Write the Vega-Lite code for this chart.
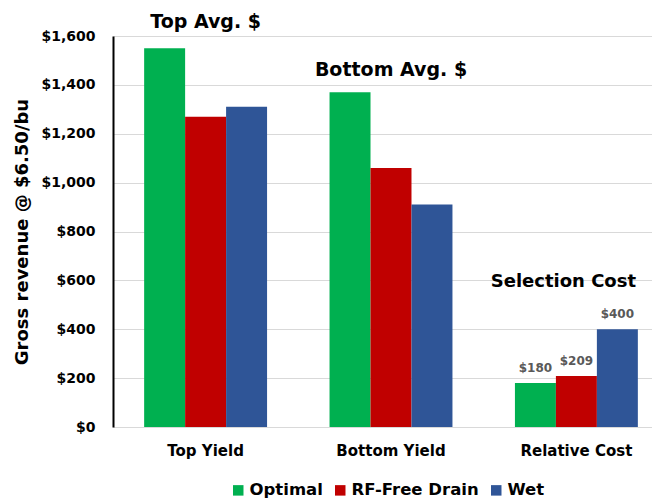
{
  "$schema": "https://vega.github.io/schema/vega-lite/v6.json",
  "autosize": "none",
  "width": 556,
  "height": 391,
  "padding": {"left": 113, "top": 36, "right": 0, "bottom": 74},
  "background": "white",
  "config": {
    "font": "DejaVu Sans",
    "view": {"stroke": null}
  },
  "datasets": {
    "bars": [
      {"category": "Top Yield", "series": "Optimal", "value": 1550},
      {"category": "Top Yield", "series": "RF-Free Drain", "value": 1270},
      {"category": "Top Yield", "series": "Wet", "value": 1310},
      {"category": "Bottom Yield", "series": "Optimal", "value": 1370},
      {"category": "Bottom Yield", "series": "RF-Free Drain", "value": 1060},
      {"category": "Bottom Yield", "series": "Wet", "value": 910},
      {"category": "Relative Cost", "series": "Optimal", "value": 180},
      {"category": "Relative Cost", "series": "RF-Free Drain", "value": 209},
      {"category": "Relative Cost", "series": "Wet", "value": 400}
    ],
    "notes": [
      {"category": "Top Yield", "note": "Top Avg. $", "pos": 1657},
      {"category": "Bottom Yield", "note": "Bottom Avg. $", "pos": 1461},
      {"category": "Relative Cost", "note": "Selection Cost", "pos": 593}
    ]
  },
  "layer": [
    {
      "data": {"name": "bars"},
      "mark": {"type": "bar"},
      "encoding": {
        "x": {
          "field": "category", "type": "nominal", "sort": null,
          "scale": {"paddingInner": 0.337, "paddingOuter": 0.168},
          "axis": {
            "title": null, "domain": false, "ticks": false, "labelAngle": 0,
            "labelFontSize": 15, "labelFontWeight": "bold", "labelColor": "black",
            "labelPadding": 16
          }
        },
        "xOffset": {"field": "series", "type": "nominal", "sort": null},
        "y": {
          "field": "value", "type": "quantitative",
          "scale": {"domain": [0, 1600]},
          "axis": {
            "title": "Gross revenue @ $6.50/bu",
            "titleFontSize": 18, "titleFontWeight": "bold", "titleColor": "black",
            "titlePadding": 9,
            "values": [0, 200, 400, 600, 800, 1000, 1200, 1400, 1600],
            "format": "$,.0f",
            "labelFontSize": 14, "labelFontWeight": "bold", "labelColor": "black",
            "labelPadding": 18, "ticks": false,
            "domainColor": "black", "domainWidth": 2,
            "gridColor": "#d9d9d9", "gridWidth": 1.2
          }
        },
        "color": {
          "field": "series", "type": "nominal", "sort": null,
          "scale": {"domain": ["Optimal", "RF-Free Drain", "Wet"], "range": ["#00B050", "#C00000", "#2F5597"]},
          "legend": {
            "title": null, "orient": "none", "direction": "horizontal",
            "legendX": 117, "legendY": 446, "padding": 0,
            "symbolType": "square", "symbolSize": 110, "symbolStrokeWidth": 0,
            "labelFontSize": 16.5, "labelFontWeight": "bold", "labelColor": "black",
            "labelOffset": 3, "columnPadding": 9
          }
        }
      }
    },
    {
      "data": {"name": "bars"},
      "transform": [{"filter": "datum.category === 'Relative Cost'"}],
      "mark": {"type": "text", "baseline": "bottom", "dy": -8, "fontSize": 12, "fontWeight": "bold", "color": "#595959"},
      "encoding": {
        "x": {"field": "category", "type": "nominal", "sort": null},
        "xOffset": {"field": "series", "type": "nominal", "sort": null},
        "y": {"field": "value", "type": "quantitative"},
        "text": {"field": "value", "type": "quantitative", "format": "$,.0f"}
      }
    },
    {
      "data": {"name": "notes"},
      "transform": [{"filter": "datum.category !== 'Relative Cost'"}],
      "mark": {"type": "text", "baseline": "middle", "fontSize": 19, "fontWeight": "bold", "color": "black"},
      "encoding": {
        "x": {"field": "category", "type": "nominal", "sort": null},
        "y": {"field": "pos", "type": "quantitative"},
        "text": {"field": "note", "type": "nominal"}
      }
    },
    {
      "data": {"name": "notes"},
      "transform": [{"filter": "datum.category === 'Relative Cost'"}],
      "mark": {"type": "text", "baseline": "middle", "fontSize": 18, "fontWeight": "bold", "color": "black", "dx": -13},
      "encoding": {
        "x": {"field": "category", "type": "nominal", "sort": null},
        "y": {"field": "pos", "type": "quantitative"},
        "text": {"field": "note", "type": "nominal"}
      }
    }
  ]
}
